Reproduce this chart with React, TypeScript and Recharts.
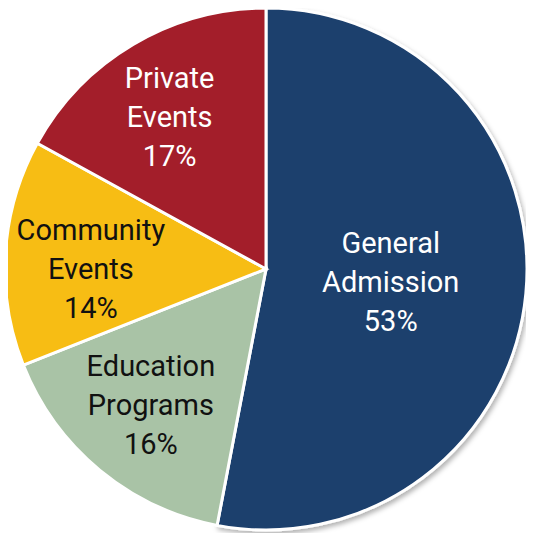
import { Cell, Pie, PieChart } from 'recharts';

const categories = ['General Admission', 'Education Programs', 'Community Events', 'Private Events'];
const labelLines = [['General', 'Admission'], ['Education', 'Programs'], ['Community', 'Events'], ['Private', 'Events']];
const shares = [53, 16, 14, 17];
const colors = ['#1b3f6d', '#a9c3a6', '#f7bd14', '#a31e2a'];
const textColors = ['#ffffff', '#111111', '#111111', '#ffffff'];

const data = categories.map((name, i) => ({ name, value: shares[i] }));

// small hand tweaks so the labels sit where the original placed them
const labelNudge = [
  [0, 1],
  [-2, -1],
  [2, 11],
  [-6, 1],
];

const RADIAN = Math.PI / 180;

function renderLabel(props: any) {
  const { cx, cy, midAngle, outerRadius, index, percent } = props;
  const r = outerRadius * (percent > 0.5 ? 0.48 : 0.68);
  const x = cx + r * Math.cos(-midAngle * RADIAN) + labelNudge[index][0];
  const y = cy + r * Math.sin(-midAngle * RADIAN) + labelNudge[index][1];
  const lines = [...labelLines[index], `${shares[index]}%`];
  const lh = 39;
  return (
    <text
      x={x}
      y={y - lh}
      fill={textColors[index]}
      textAnchor="middle"
      dominantBaseline="central"
      style={{ fontFamily: 'Roboto, sans-serif', fontSize: 29 }}
    >
      {lines.map((t, i) => (
        <tspan key={i} x={x} dy={i === 0 ? 0 : lh}>
          {t}
        </tspan>
      ))}
    </text>
  );
}

export default function App() {
  return (
    <div style={{ width: 526, height: 525 }}>
      <PieChart width={526} height={525}>
        <defs>
          <filter id="pieShadow" x="-10%" y="-10%" width="120%" height="120%">
            <feDropShadow dx="2" dy="3" stdDeviation="2.5" floodColor="#000" floodOpacity="0.3" />
          </filter>
        </defs>
        <Pie
          data={data}
          dataKey="value"
          nameKey="name"
          cx={253}
          cy={256}
          outerRadius={261}
          startAngle={90}
          endAngle={-270}
          stroke="#ffffff"
          strokeWidth={3}
          label={renderLabel}
          labelLine={false}
          isAnimationActive={false}
        >
          {data.map((d, i) => (
            <Cell key={d.name} fill={colors[i]} filter={i === 0 ? 'url(#pieShadow)' : undefined} />
          ))}
        </Pie>
      </PieChart>
    </div>
  );
}
